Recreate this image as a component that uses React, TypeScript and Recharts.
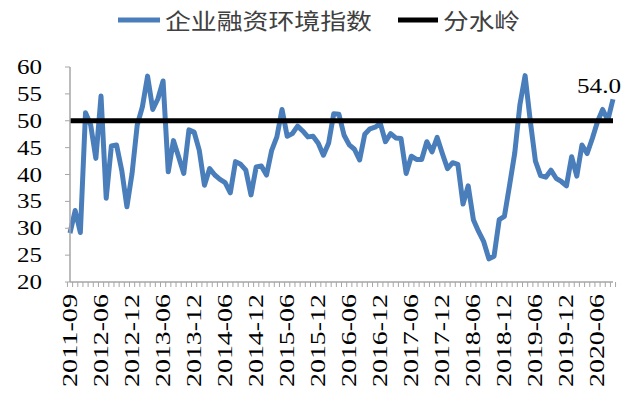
import React from 'react';
import { ComposedChart, Line, XAxis, YAxis, ReferenceLine, LabelList } from 'recharts';

// first points are not monthly, then monthly from 2012-06
const leadMonths = ['2011-09', '2011-12', '2012-02', '2012-03', '2012-04', '2012-05'];

function monthRange(y0: number, m0: number, y1: number, m1: number) {
  const out: string[] = [];
  let y = y0;
  let m = m0;
  while (y < y1 || (y === y1 && m <= m1)) {
    out.push(`${y}-${String(m).padStart(2, '0')}`);
    m += 1;
    if (m > 12) { m = 1; y += 1; }
  }
  return out;
}

const months = [...leadMonths, ...monthRange(2012, 6, 2020, 9)];

const financingIndex = [
  29.1, 33.3, 29.2, 51.5, 49.2, 43.0, 54.6, 35.6, 45.3, 45.5,
  40.8, 34.0, 40.2, 49.2, 52.6, 58.3, 52.1, 54.1, 57.4, 40.5,
  46.3, 43.3, 40.2, 48.3, 47.9, 44.5, 38.0, 41.1, 39.9, 39.1,
  38.5, 36.6, 42.4, 41.9, 40.8, 36.2, 41.4, 41.6, 39.9, 44.5,
  47.0, 52.1, 47.1, 47.6, 49.0, 48.1, 47.0, 47.1, 45.8, 43.6,
  45.8, 51.3, 51.2, 47.3, 45.5, 44.7, 42.7, 47.5, 48.5, 48.8,
  49.5, 46.1, 47.6, 46.8, 46.7, 40.2, 43.4, 42.8, 42.8, 46.1,
  44.2, 46.9, 43.9, 41.1, 42.2, 41.9, 34.5, 37.9, 31.6, 29.4,
  27.5, 24.3, 24.8, 31.6, 32.2, 38.0, 44.0, 53.0, 58.4, 50.0,
  42.5, 39.8, 39.5, 40.8, 39.3, 38.7, 37.9, 43.3, 39.7, 45.5,
  43.9, 46.7, 49.8, 52.1, 50.1, 54.0,
];

const threshold = 50;
const yTicks = [20, 25, 30, 35, 40, 45, 50, 55, 60];

const data = months.map((m, i) => ({ month: m, value: financingIndex[i] }));

const BLUE = '#4a7ebb';
const AXIS = '#a6a6a6';
const SERIF = '"Liberation Serif", "Times New Roman", serif';
const CJK = '"Noto Sans CJK SC", sans-serif';

const PLOT_W = 543;
const BAND = PLOT_W / months.length;

function XTick(props: any) {
  const { x, y, payload } = props;
  const i = payload.index;
  return (
    <g>
      <line x1={x - BAND / 2} x2={x - BAND / 2} y1={y} y2={y + 5} stroke={AXIS} strokeWidth={1} />
      {i === months.length - 1 && (
        <line x1={x + BAND / 2} x2={x + BAND / 2} y1={y} y2={y + 5} stroke={AXIS} strokeWidth={1} />
      )}
      {i % 6 === 0 && (
        <text
          transform={`translate(${x},${y + 12}) rotate(-90)`}
          textAnchor="end"
          dominantBaseline="central"
          fontFamily={SERIF}
          fontSize={20}
          textLength={93}
          lengthAdjust="spacingAndGlyphs"
          fill="#000"
        >
          {payload.value}
        </text>
      )}
    </g>
  );
}

function YTick(props: any) {
  const { x, y, payload } = props;
  return (
    <text
      x={x}
      y={y}
      textAnchor="end"
      dominantBaseline="central"
      fontFamily={SERIF}
      fontSize={20}
      textLength={25}
      lengthAdjust="spacingAndGlyphs"
      fill="#000"
    >
      {payload.value}
    </text>
  );
}

function LastLabel(props: any) {
  const { x, y, value, index } = props;
  if (index !== financingIndex.length - 1) return null;
  return (
    <text
      x={x - 14}
      y={y - 6}
      textAnchor="middle"
      fontFamily={SERIF}
      fontSize={20}
      textLength={44}
      lengthAdjust="spacingAndGlyphs"
      fill="#000"
    >
      {Number(value).toFixed(1)}
    </text>
  );
}

export default function App() {
  return (
    <div style={{ position: 'absolute', left: 0, top: 0, width: 640, height: 395, background: '#fff' }}>
      <svg width={640} height={50} style={{ position: 'absolute', left: 0, top: 0 }}>
        <line x1={118} x2={160} y1={20} y2={20} stroke={BLUE} strokeWidth={5} />
        <text x={165} y={29} fontFamily={CJK} fontSize={22} fill="#404040" textLength={207} lengthAdjust="spacingAndGlyphs">
          企业融资环境指数
        </text>
        <line x1={398} x2={438} y1={20} y2={20} stroke="#000" strokeWidth={5} />
        <text x={443} y={29} fontFamily={CJK} fontSize={22} fill="#404040" textLength={77} lengthAdjust="spacingAndGlyphs">
          分水岭
        </text>
      </svg>
      <ComposedChart width={640} height={395} data={data} margin={{ top: 67, right: 27, bottom: 0, left: 0 }}>
        <XAxis
          dataKey="month"
          interval={0}
          height={113}
          tickSize={0}
          tickMargin={0}
          tickLine={false}
          axisLine={{ stroke: AXIS, strokeWidth: 1.5 }}
          tick={<XTick />}
        />
        <YAxis
          domain={[20, 60]}
          ticks={yTicks}
          width={70}
          tickSize={5}
          tickMargin={23}
          axisLine={{ stroke: AXIS, strokeWidth: 1.5 }}
          tickLine={{ stroke: AXIS }}
          tick={<YTick />}
        />
        <Line
          type="linear"
          dataKey="value"
          stroke={BLUE}
          strokeWidth={5}
          strokeLinejoin="round"
          dot={false}
          isAnimationActive={false}
        >
          <LabelList dataKey="value" content={<LastLabel />} />
        </Line>
        <ReferenceLine y={threshold} stroke="#000" strokeWidth={5} />
      </ComposedChart>
    </div>
  );
}
